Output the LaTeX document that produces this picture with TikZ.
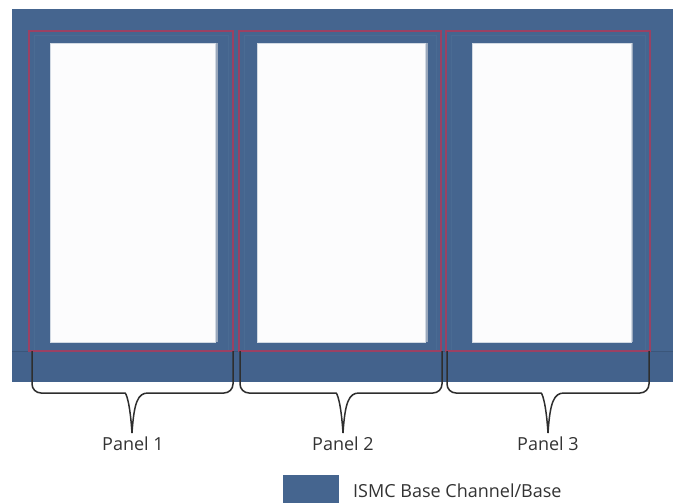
\documentclass[tikz,border=0pt]{standalone}
\usepackage{fontspec}
\setmainfont{Open Sans}
\definecolor{ismc}{HTML}{45658F}
\definecolor{ismcdark}{HTML}{43628C}
\definecolor{ismclight}{HTML}{4A6B93}
\definecolor{chan}{HTML}{9A4163}
\definecolor{shadowc}{HTML}{9AA8BC}
\definecolor{winfill}{HTML}{FCFCFD}
\definecolor{txt}{HTML}{333333}
\definecolor{brace}{HTML}{2E2E2E}
\tikzset{
  base/.style={fill=ismc, draw=none},
  channel/.style={draw=chan, line width=2pt},
  chanedge/.style={draw=ismclight, line width=1pt},
  window/.style={fill=winfill, draw=white!75!ismc, line width=0.6pt},
  winshadow/.style={fill=shadowc, draw=none},
  bracepath/.style={draw=brace, line width=1.5pt},
  lbl/.style={font=\fontsize{18}{20}\selectfont, text=txt, inner sep=0pt},
}
\begin{document}
\begin{tikzpicture}[x=1pt,y=-1pt]
\useasboundingbox (0,0) rectangle (680,503);
% base
\fill[base] (12,9) rectangle (673,382);
\fill[ismcdark] (12,351) rectangle (673,382);
\draw[ismc!85!black, line width=0.6pt] (12,351) -- (673,351);
% channel inner edges
\draw[chanedge] (34,36) rectangle (228,351);
\draw[chanedge] (244,36) rectangle (436,351);
\draw[chanedge] (451,36) rectangle (645,351);
% windows with shadows
\fill[winshadow] (215,43) rectangle (218,342);
\node[window, minimum width=165pt, minimum height=299pt, inner sep=0pt, anchor=north west] (w1) at (50,43) {};
\fill[winshadow] (425,43) rectangle (428,342);
\node[window, minimum width=168pt, minimum height=299pt, inner sep=0pt, anchor=north west] (w2) at (257,43) {};
\fill[winshadow] (631,43) rectangle (633,342);
\node[window, minimum width=159pt, minimum height=299pt, inner sep=0pt, anchor=north west] (w3) at (472,43) {};
% channels
\draw[channel] (29,31) rectangle (233,351);
\draw[channel] (239,31) rectangle (441,351);
\draw[channel] (446,31) rectangle (650,351);
% braces
\coordinate (t1) at (132,433);
\coordinate (t2) at (343,433);
\coordinate (t3) at (548,433);
\draw[bracepath] (32,351) [rounded corners=9pt] |- (116,393) [sharp corners] .. controls (126,393) and (130,402) .. (t1)
  .. controls (134,402) and (138,393) .. (148,393) [rounded corners=9pt] -| (233,351);
\draw[bracepath] (240,351) [rounded corners=9pt] |- (327,393) [sharp corners] .. controls (337,393) and (341,402) .. (t2)
  .. controls (345,402) and (349,393) .. (359,393) [rounded corners=9pt] -| (442,351);
\draw[bracepath] (447,351) [rounded corners=9pt] |- (532,393) [sharp corners] .. controls (542,393) and (546,402) .. (t3)
  .. controls (550,402) and (554,393) .. (564,393) [rounded corners=9pt] -| (649,351);
% labels
\node[lbl, anchor=base] (p1) at (133,450) {Panel 1};
\node[lbl, anchor=base] (p2) at (343,450) {Panel 2};
\node[lbl, anchor=base] (p3) at (548,450) {Panel 3};
% legend
\node[base, minimum width=56pt, minimum height=28pt, inner sep=0pt, anchor=north west] (lg) at (283,475) {};
\node[lbl, anchor=base west] (lt) at (353,497) {ISMC Base Channel/Base};
\end{tikzpicture}
\end{document}
